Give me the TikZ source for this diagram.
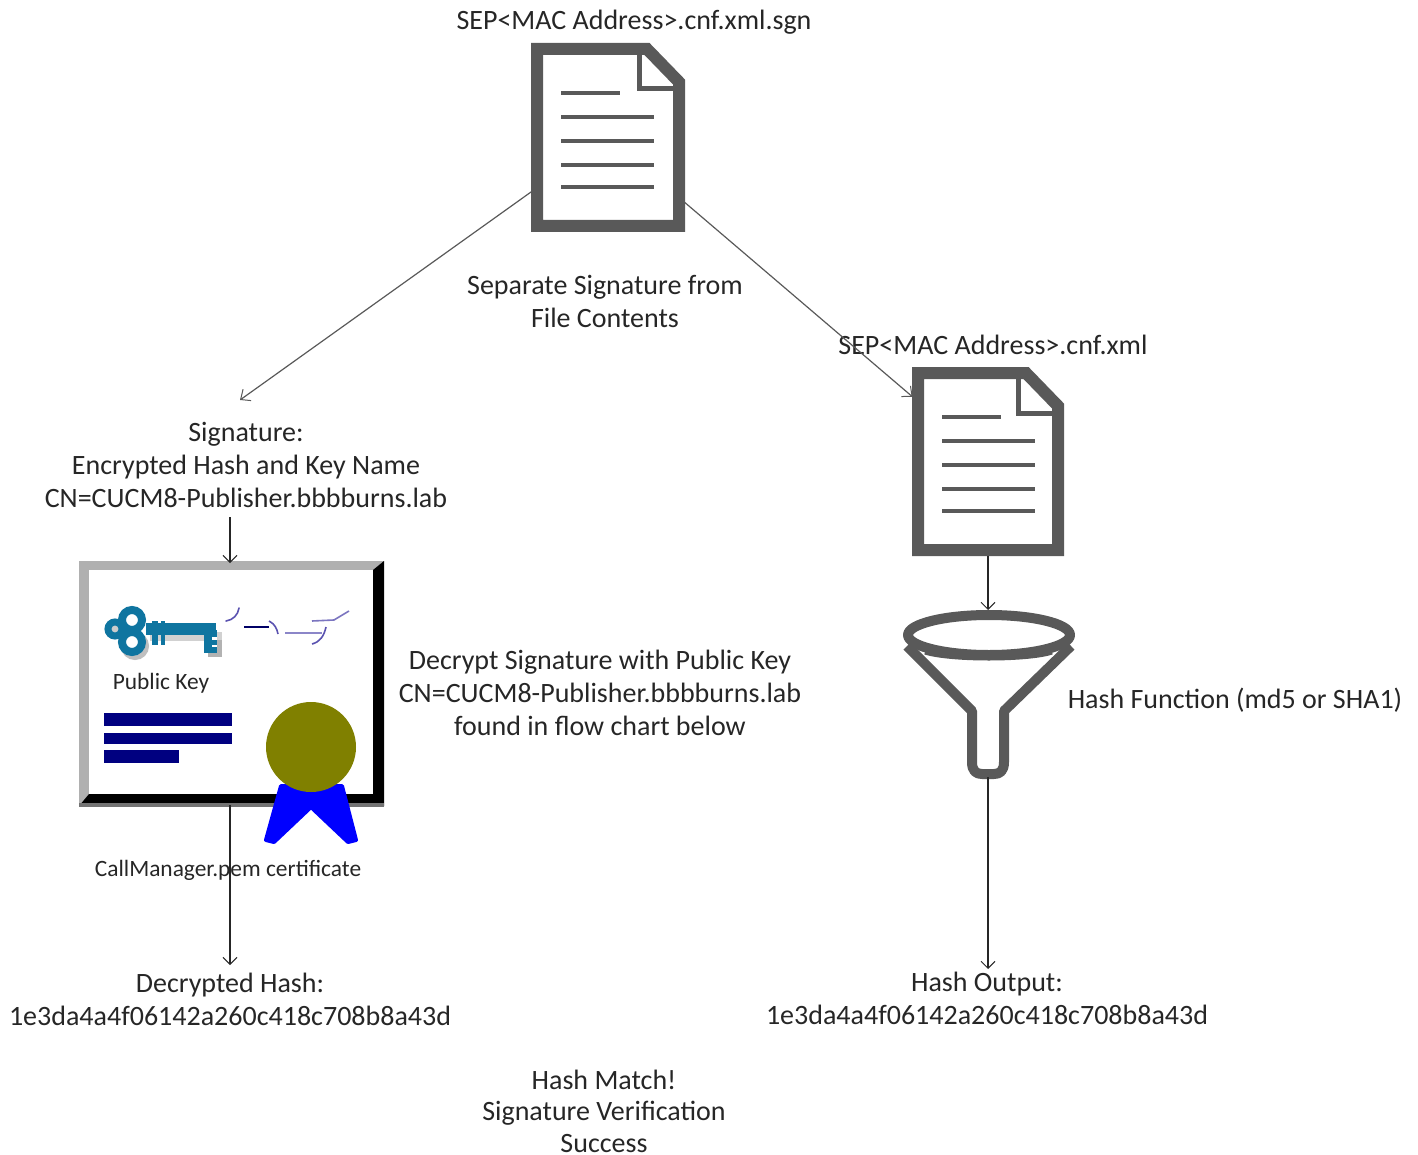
\documentclass[tikz,border=0pt]{standalone}
\usepackage{fontspec}
\setmainfont{Carlito}
\usetikzlibrary{arrows.meta}
\definecolor{iconGray}{HTML}{595959}
\definecolor{keyTeal}{HTML}{0F75A0}
\definecolor{certGray}{HTML}{B0B0B0}
\definecolor{sealOlive}{HTML}{808000}
\definecolor{sigPurple}{HTML}{5A52B0}
\definecolor{txt}{HTML}{262626}
\tikzset{
  lbl/.style={font=\fontsize{14}{16.5}\selectfont, text=txt, align=center, inner sep=0pt},
  tightlbl/.style={font=\fontsize{14}{15.7}\selectfont, text=txt, align=center, inner sep=0pt},
  smalllbl/.style={font=\fontsize{11.7}{13}\selectfont, text=txt, align=center, inner sep=0pt},
  anchorbox/.style={inner sep=0pt, draw=none, fill=none},
  conn/.style={draw=black!85, line width=1.2pt, -{Straight Barb[length=3.5pt,width=7pt,line width=.5pt]}},
  thinconn/.style={draw=black!65, line width=.6pt, -{Straight Barb[length=4pt,width=7pt,line width=.5pt]}},
  iconstroke/.style={draw=iconGray, line width=6pt, miter limit=10},
  iconline/.style={draw=iconGray, line width=2.2pt},
  funnelstroke/.style={draw=iconGray, line width=5pt, line join=round},
}
% left, top, right, bottom of the outline's centre line
\newcommand{\docicon}[4]{%
  \draw[iconstroke, fill=white] (#1,#2) -- (#3-32,#2) -- (#3,#2+33) -- (#3,#4) -- (#1,#4) -- cycle;
  \draw[iconGray, line width=2.5pt] (#3-40,#2) -- (#3-40,#2+40) -- (#3,#2+40);
  \draw[iconGray, line width=2.5pt, line join=miter] (#3-32,#2) -- (#3,#2+33);
  \draw[iconline] (#1+24,#2+44) -- (#1+83,#2+44);
  \foreach \yy in {68,92,116,138} \draw[iconline] (#1+24,#2+\yy) -- (#1+117,#2+\yy);
}
\begin{document}
\begin{tikzpicture}[x=0.5pt,y=-0.5pt]
\useasboundingbox (0,0) rectangle (1418,1155);
% anchors
\node[anchorbox, minimum width=76pt, minimum height=94pt] (doc1) at (608,137) {};
\node[anchorbox, minimum width=75pt, minimum height=94pt] (doc2) at (988,461) {};
\node[anchorbox, minimum width=152.5pt, minimum height=122pt] (cert) at (231,684) {};
\node[anchorbox, minimum width=85pt, minimum height=84pt] (funnel) at (988,694) {};
% icons
\docicon{537}{49}{679}{226}
\docicon{918}{373}{1058}{550}
% certificate
\fill[certGray] (79,561) rectangle (384,807);
\fill[black] (384,561) -- (373,570) -- (373,794) -- (89,794) -- (79,806) -- (384,806) -- cycle;
\fill[black!55] (79,803) rectangle (384,807);
\fill[white] (89,570) rectangle (373,794);
% key
\begin{scope}
 \fill[black!18] (150,632) rectangle (222,641);
 \fill[black!30] (208,640) rectangle (222,657);
 \draw[black!25, line width=4pt] (135,646) circle[radius=10];
 \draw[keyTeal, line width=3.5pt, fill=black!20] (115,629) circle[radius=7];
 \draw[keyTeal, line width=4pt, fill=white] (132,620) circle[radius=10];
 \draw[keyTeal, line width=4pt, fill=white] (132,642) circle[radius=10];
 \fill[keyTeal] (146,623) rectangle (216,635);
 \fill[keyTeal] (152,621) rectangle (158,645);
 \fill[keyTeal] (161,621) rectangle (165,645);
 \fill[keyTeal] (204,630) rectangle (217,653);
 \fill[white] (212,637) rectangle (217,640);
 \fill[white] (212,645) rectangle (217,647);
\end{scope}
% scribble
\draw[sigPurple, line width=.8pt, line cap=round] (226,621) .. controls (233,620) and (238,615) .. (239,608);
\draw[blue!40!black, line width=1pt] (244,627) -- (269,627);
\draw[sigPurple, line width=.8pt] (269,621) .. controls (275,624) and (277,629) .. (278,634);
\draw[sigPurple!70, line width=.8pt] (285,633) -- (322,633);
\draw[sigPurple!80, line width=.8pt] (312,621) -- (334,620) -- (349,611);
\draw[sigPurple, line width=.8pt] (326,627) .. controls (324,636) and (320,642) .. (312,644);
% text bars
\fill[blue!50!black] (104,713) rectangle (232,726);
\fill[blue!50!black] (104,733) rectangle (232,744);
\fill[blue!50!black] (104,750) rectangle (179,763);
% ribbon + seal
\fill[blue, draw=blue, line width=2pt, line join=round] (281,786) -- (266,840) -- (274,842) -- (311,807) -- (348,842) -- (356,840) -- (342,786) -- cycle;
\fill[sealOlive] (311,747) circle[radius=45];
% funnel
\draw[funnelstroke] (907,646) -- (972,711) -- (972,762) .. controls (972,771) and (976,774) .. (982,774) -- (994,774) .. controls (1000,774) and (1004,771) .. (1004,762) -- (1004,711) -- (1071,646);
\draw[funnelstroke] (989,635) ellipse[x radius=81, y radius=20];
\draw[iconGray, line width=2.5pt] (925,652) .. controls (950,660) and (1028,660) .. (1052,652);
% text
\node[lbl] (tsgn) at (634,22) {SEP<MAC Address>.cnf.xml.sgn};
\node[lbl] (tsep) at (605,301) {Separate Signature from\\File Contents};
\node[lbl] (txml) at (993,345) {SEP<MAC Address>.cnf.xml};
\node[lbl] (tsig) at (246,465) {Signature:\\Encrypted Hash and Key Name\\CN=CUCM8-Publisher.bbbburns.lab};
\node[smalllbl] (tpub) at (161,683) {Public Key};
\node[smalllbl] (tcm) at (228,870) {CallManager.pem certificate};
\node[lbl] (tdec) at (600,693) {Decrypt Signature with Public Key\\CN=CUCM8-Publisher.bbbburns.lab\\found in flow chart below};
\node[lbl] (thf) at (1235,700) {Hash Function (md5 or SHA1)};
\node[lbl] (tdh) at (230,999) {Decrypted Hash:\\1e3da4a4f06142a260c418c708b8a43d};
\node[lbl] (tho) at (987,998) {Hash Output:\\1e3da4a4f06142a260c418c708b8a43d};
\node[tightlbl] (tmatch) at (604,1111) {Hash Match!\\Signature Verification\\Success};
% connector ends
\coordinate (sigin) at (240,400);
\coordinate (sigout) at (230,517);
\coordinate (certin) at (230,563);
\coordinate (certout) at (230,805);
\coordinate (dhin) at (230,965);
\coordinate (funin) at (988,610);
\coordinate (funout) at (988,777);
\coordinate (hoin) at (988,969);
\coordinate (doc2out) at (988,556);
% connectors
\draw[thinconn] (doc1) -- (sigin);
\draw[thinconn] (doc1) -- (doc2);
\draw[conn] (sigout) -- (certin);
\draw[conn] (certout) -- (dhin);
\draw[conn] (doc2out) -- (funin);
\draw[conn] (funout) -- (hoin);
\end{tikzpicture}
\end{document}
